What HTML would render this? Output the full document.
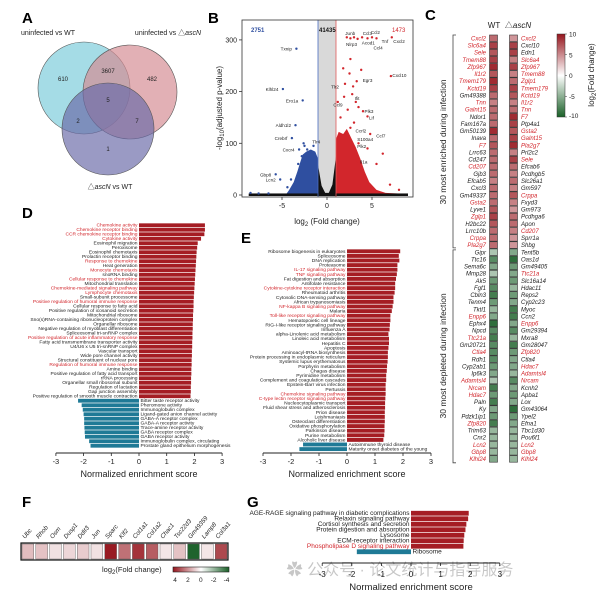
<!DOCTYPE html>
<html><head><meta charset="utf-8">
<style>
html,body{margin:0;padding:0;background:#fff}
svg{display:block;font-family:"Liberation Sans","Noto Sans CJK SC",sans-serif}
.pl{font-size:15px;font-weight:bold}
</style></head>
<body>
<svg id="fig" width="605" height="596" viewBox="0 0 605 596" xmlns="http://www.w3.org/2000/svg">
<rect width="605" height="596" fill="#fff"/>
<!-- Panel labels -->
<text x="22" y="23" class="pl">A</text>
<text x="208" y="23" class="pl">B</text>
<text x="425" y="20" class="pl">C</text>
<text x="22" y="218" class="pl">D</text>
<text x="241" y="243" class="pl">E</text>
<text x="22" y="507" class="pl">F</text>
<text x="247" y="507" class="pl">G</text>

<!-- Venn A -->
<g>
<circle cx="84" cy="88" r="46" fill="#8fd3e0" fill-opacity="0.8" stroke="#555" stroke-width="0.6"/>
<circle cx="130" cy="92" r="47" fill="#d48a92" fill-opacity="0.68" stroke="#555" stroke-width="0.6"/>
<circle cx="108" cy="129" r="46" fill="#6a6aa8" fill-opacity="0.68" stroke="#555" stroke-width="0.6"/>
<g font-size="7" fill="#222" text-anchor="middle">
<text x="48" y="35">uninfected vs WT</text>
<text x="168" y="35">uninfected vs △<tspan font-style="italic">ascN</tspan></text>
<text x="110" y="189">△<tspan font-style="italic">ascN</tspan> vs WT</text>
<text x="63" y="81" font-size="6">610</text>
<text x="108" y="73" font-size="6">3607</text>
<text x="152" y="81" font-size="6">482</text>
<text x="108" y="102" font-size="6">5</text>
<text x="78" y="123" font-size="6">2</text>
<text x="137" y="123" font-size="6">7</text>
<text x="108" y="151" font-size="6">1</text>
</g></g>

<!-- B frame -->
<g id="volcano"></g>
<g id="heat"></g>
<g id="gsea-d"></g>
<g id="gsea-e"></g>
<g id="fheat"></g>
<g id="gsea-g"></g>
<text x="400" y="575" font-size="16" fill="#000" fill-opacity="0.22" text-anchor="middle">✿ 公众号 · 论文统计与指导服务</text>
</svg>
<script>
const NS="http://www.w3.org/2000/svg";
function mk(tag,at,par){const e=document.createElementNS(NS,tag);for(const k in at)e.setAttribute(k,at[k]);par.appendChild(e);return e;}
function tx(str,at,par){const e=mk('text',at,par);e.textContent=str;return e;}

/* ===== B volcano data ===== */
const volXTicks=[-5,0,5];
const volYTicks=[0,100,200,300];
const blueEnvelope=[[-4.6,0],[-4.2,10],[-3.7,25],[-3.3,45],[-3.0,62],[-2.7,78],[-2.3,84],[-1.8,88],[-1.3,84],[-1,70],[-1,0]];
const redEnvelope=[[1,0],[1,108],[1.3,122],[1.8,118],[2.2,128],[2.7,110],[3.2,92],[3.7,70],[4.2,45],[4.7,25],[5.5,10],[6.5,4],[9,2],[9,0]];
const blackEnvelope=[[-1,0],[-1,58],[-0.6,18],[-0.2,4],[0.2,4],[0.6,20],[1,75],[1,0]];
const bluePts=[[-3.4,283],[-4.9,205],[-2.7,183],[-3.5,135],[-3.9,110],[-2.6,100],[-3.1,88],[-5.7,40],[-5.2,30],[-2.5,95],[-2.2,88],[-2.8,75],[-3.2,60],[-2.0,80],[-4.0,30],[-4.4,15],[-1.5,95],[-1.9,70],[-8.5,4],[-7.6,3],[-6.5,3]];
const redPts=[[7.2,305],[7.1,230],[2.2,305],[2.6,303],[3.0,305],[3.4,302],[3.9,305],[4.5,303],[5.0,305],[5.5,303],[2.6,263],[3.8,242],[1.8,245],[2.5,235],[3.3,220],[2.9,210],[2.0,215],[2.8,195],[3.2,180],[1.9,190],[4.0,162],[4.5,152],[3.5,170],[2.3,165],[1.5,150],[3.0,140],[2.6,130],[4.8,118],[6.2,80],[3.5,100],[4.5,90],[5.5,60],[7.0,20],[8.0,10],[3.0,50],[3.4,65],[1.2,180]];
const volLabels=[["Txnip",-3.4,283,-3],["Klhl24",-4.9,205,-3],["Ero1a",-2.7,183,-3],["Aldh1l2",-3.5,135,-3],["Crebrf",-3.9,110,-3],["Tlr4",-1.8,103,1],["Cxcr4",-3.1,88,-3],["Gbp8",-5.7,40,-3],["Lcn2",-5.2,30,-3],["Cxcl2",7.2,298,1],["Cxcl10",7.1,232,1],["Egr3",3.8,222,1],["Tlr2",1.5,210,-1],["Ifit",2.9,188,1],["Ccl9",1.9,175,-1],["Plk3",4.0,162,1],["Lif",4.5,150,1],["Ccrl2",3.0,125,1],["Ccl7",5.3,115,1],["S100a4",3.2,108,1],["Plk2",3.2,95,1],["Il1a",3.5,65,1],["Junb",3.3,313,-1],["Ccl3",3.8,313,1],["Ccl2",4.7,315,1],["Nlrp3",3.5,292,-1],["Acod1",3.7,295,1],["Tnf",5.9,298,1],["Ccl4",5.0,285,1]];

(function(){
const g=document.getElementById('volcano');
const X0=242,X1=413,Y0=20,Y1=197;
const xS=v=>327+v*9, yS=v=>195-v*0.517;
let el=mk('rect',{x:xS(-1),y:Y0,width:xS(1)-xS(-1),height:Y1-Y0,fill:'#d9d9d9'},g);


function poly(arr,fill,name){const p=mk('polygon',{points:arr.map(d=>xS(d[0])+','+yS(d[1])).join(' '),fill:fill},g);

}
poly(blueEnvelope,'#2f4fa0','downregulated-cloud');
poly(redEnvelope,'#d2262c','upregulated-cloud');
poly(blackEnvelope,'#111','nonsignificant-cloud');
el=mk('rect',{x:xS(-8.7),y:yS(3),width:xS(9)-xS(-8.7),height:yS(0)-yS(3)+1,fill:'#111'},g);


bluePts.forEach(d=>{const c=mk('circle',{cx:xS(d[0]),cy:yS(d[1]),r:1.2,fill:'#2f4fa0'},g);

});
redPts.forEach(d=>{const c=mk('circle',{cx:xS(d[0]),cy:yS(d[1]),r:1.2,fill:'#d2262c'},g);

});
el=mk('line',{x1:xS(-1),x2:xS(-1),y1:Y0,y2:Y1,stroke:'#4a6cc0','stroke-width':0.8},g);


el=mk('line',{x1:xS(1),x2:xS(1),y1:Y0,y2:Y1,stroke:'#e05a5a','stroke-width':0.8},g);


el=mk('rect',{x:X0,y:Y0,width:X1-X0,height:Y1-Y0,fill:'none',stroke:'#333','stroke-width':0.8},g);


volLabels.forEach(d=>{const t=tx(d[0],{x:xS(d[1])+d[3]*1.5,y:yS(d[2])+2,'font-size':4.6,fill:'#222','text-anchor':d[3]<0?'end':'start'},g);

});
volXTicks.forEach(v=>{const l=mk('line',{x1:xS(v),x2:xS(v),y1:Y1,y2:Y1+3,stroke:'#333','stroke-width':0.8},g);


const t=tx(String(v).replace('-','-'),{x:xS(v),y:Y1+11,'font-size':7,'text-anchor':'middle',fill:'#222'},g);

});
volYTicks.forEach(v=>{const l=mk('line',{x1:X0-3,x2:X0,y1:yS(v),y2:yS(v),stroke:'#333','stroke-width':0.8},g);


const t=tx(String(v),{x:X0-5,y:yS(v)+2.5,'font-size':7,'text-anchor':'end',fill:'#222'},g);

});
let t=tx('2751',{x:251,y:32,'font-size':6,'font-weight':'bold',fill:'#2f4fa0'},g);


t=tx('41435',{x:319,y:32,'font-size':6,'font-weight':'bold',fill:'#111'},g);


t=tx('1473',{x:392,y:32,'font-size':6,fill:'#d2262c'},g);


t=mk('text',{x:327,y:224,'font-size':8,'text-anchor':'middle',fill:'#222'},g);
t.innerHTML='log<tspan font-size="6" dy="2">2</tspan><tspan dy="-2"> (Fold change)</tspan>';


t=mk('text',{x:0,y:0,'font-size':8,'text-anchor':'middle',fill:'#222',transform:'translate(222,108) rotate(-90)'},g);
t.innerHTML='-log<tspan font-size="6" dy="2">10</tspan><tspan dy="-2">(adjusted p-value)</tspan>';


})();

/* ===== C heatmap data ===== */
const wtGenes=["Cxcl2","Slc6a4","Sele","Tmem88","Zfp967","Il1r2","Tmem179","Kctd19","Gm49388","Tnn","Galnt15","Ndor1","Fam167a","Gm50139","Inava","F7","Lrrc63","Cd247","Cd207","Gjb3","Efcab5","Cxcl3","Gm49337","Gsta2","Lyve1","Zglp1","H2bc22","Lrrc10b","Crppa","Pla2g7","Gipr","Ttc16","Sema6c","Mmp28","Ak5","Fgf1","Cbln3","Tenm4","Tktl1","Enpp6","Ephx4","Npcd","Ttc21a","Gm20721","Ctla4","Rdh1","Cyp2ab1","Ip6k3","Adamtsl4","Nrcam","Hdac7","Paln","Ky","Pdzk1ip1","Zfp820","Trim63","Cnr2","Lcn2","Gbp8","Klhl24"];
const wtRed=[1,1,1,1,1,1,1,1,0,1,1,0,0,0,0,1,0,0,1,0,0,0,0,1,0,1,0,0,1,1,0,0,0,0,0,0,0,0,0,1,0,0,1,0,1,0,0,0,1,1,1,0,0,0,1,0,0,1,1,1];
const wtVals=[7,9,8,9,10,8,10,9,7,6,7,7,7,10,7,8,7,7,7,7,6,7,7,7,8,9,8,7,7,7,-4,-8,-6,-4,-7,-8,-9,-7,-5,-6,-10,-8,-9,-8,-8,-8,-7,-6,-4,-9,-7,-9,-6,-7,-9,-5,-5,-5,-5,-6];
const dGenes=["Cxcl2","Cxcl10","Edn1","Slc6a4","Zfp967","Tmem88","Zglp1","Tmem179","Kctd19","Il1r2","Tnn","F7","Ptp4a1","Gsta2","Galnt15","Pla2g7","Prl2c2","Sele","Efcab6","Pcdhgb5","Slc26a1","Gm597","Crppa","Fxyd3","Gm973","Pcdhga6","Apon","Cd207","Sprr1a","Shbg","Tent5b","Oas1d","Gm49405","Ttc21a","Slc16a14","Hdac11","Reps2","Cyp2c23","Myoc","Ccn2","Enpp6","Gm29394","Mxra8","Gm28047","Zfp820","Ctla4","Hdac7","Adamtsl4","Nrcam","Kcnh2","Apba1","Lox","Gm43064","Ypel2","Efna1","Tbc1d30","Pou6f1","Lcn2","Gbp8","Klhl24"];
const dRed=[1,0,0,1,1,1,1,1,1,1,1,1,0,1,1,1,0,1,0,0,0,0,1,0,0,0,0,1,0,0,0,0,0,1,0,0,0,0,0,0,1,0,0,0,1,0,1,1,1,0,0,0,0,0,0,0,0,1,1,1];
const dVals=[5,9,9,6,9,6,7,9,8,6,7,10,9,8,9,10,6,9,7,6,7,6,8,6,5,7,7,6,5,5,-6,-10,-7,-6,-7,-5,-7,-6,-9,-9,-6,-8,-5,-9,-7,-6,-6,-5,-8,-6,-7,-6,-10,-7,-6,-5,-5,-5,-5,-5];
const cbTicks=[10,5,0,-5,-10];

function divColor(v,max,pos,neg){const f=Math.max(-1,Math.min(1,v/max));const c=f>=0?pos:neg;const a=Math.abs(f);
const r=Math.round(255+(c[0]-255)*a),gg=Math.round(255+(c[1]-255)*a),b=Math.round(255+(c[2]-255)*a);return `rgb(${r},${gg},${b})`;}
const RED=[150,22,30],GREEN=[26,96,40];

(function(){
const g=document.getElementById('heat');
const y0=35,h=7.13;
let t=tx('WT',{x:494,y:28,'font-size':8,'text-anchor':'middle',fill:'#222'},g);


t=mk('text',{x:518,y:28,'font-size':8,'text-anchor':'middle',fill:'#222'},g);
t.innerHTML='△<tspan font-style="italic">ascN</tspan>';


wtGenes.forEach((n,i)=>{const y=y0+i*h;
const r=mk('rect',{x:489.5,y:y,width:8,height:h-0.6,fill:divColor(wtVals[i],11,RED,GREEN),stroke:'#333','stroke-width':0.6},g);


const l=tx(n,{x:486,y:y+5.4,'font-size':6,'font-style':'italic','text-anchor':'end',fill:wtRed[i]?'#d2262c':'#222'},g);

});
dGenes.forEach((n,i)=>{const y=y0+i*h;
const r=mk('rect',{x:509.5,y:y,width:8,height:h-0.6,fill:divColor(dVals[i],11,RED,GREEN),stroke:'#333','stroke-width':0.6},g);


const l=tx(n,{x:521,y:y+5.4,'font-size':6,'font-style':'italic',fill:dRed[i]?'#d2262c':'#222'},g);

});
let b=mk('path',{d:`M456,${y0} H453 V${y0+30*h-1} H456`,fill:'none',stroke:'#444','stroke-width':0.8},g);


b=mk('path',{d:`M456,${y0+30*h+1} H453 V${y0+60*h} H456`,fill:'none',stroke:'#444','stroke-width':0.8},g);


t=tx('30 most enriched during infection',{x:0,y:0,'font-size':8.5,'text-anchor':'middle',fill:'#222',transform:`translate(446,${y0+15*h}) rotate(-90)`},g);


t=tx('30 most depleted  during infection',{x:0,y:0,'font-size':8.5,'text-anchor':'middle',fill:'#222',transform:`translate(446,${y0+45*h}) rotate(-90)`},g);


// colorbar
const defs=mk('defs',{},g);
const lg=mk('linearGradient',{id:'cbv',x1:0,y1:0,x2:0,y2:1},defs);
[['0%','rgb(150,22,30)'],['50%','#fff'],['100%','rgb(26,96,40)']].forEach(s=>mk('stop',{offset:s[0],'stop-color':s[1]},lg));
const cbY0=34,cbY1=117;
let cb=mk('rect',{x:557,y:cbY0,width:8,height:cbY1-cbY0,fill:'url(#cbv)',stroke:'#333','stroke-width':0.5},g);


cbTicks.forEach(v=>{const y=cbY0+(10-v)/20*(cbY1-cbY0);
const l=mk('line',{x1:565,x2:567,y1:y,y2:y,stroke:'#333','stroke-width':0.5},g);


const tt=tx(String(v),{x:569,y:Math.min(y+2.5,cbY1+1),'font-size':6.5,fill:'#222'},g);

});
t=mk('text',{x:0,y:0,'font-size':8,'text-anchor':'middle',fill:'#222',transform:'translate(594,75) rotate(-90)'},g);
t.innerHTML='log<tspan font-size="6" dy="2">2</tspan><tspan dy="-2">(Fold change)</tspan>';


})();

/* ===== D data ===== */
const dTerms=["Chemokine activity","Chemokine receptor binding","CCR chemokine receptor binding","Cytokine activity","Eosinophil migration","Peroxisome","Eosinophil chemotaxis","Prolactin receptor binding","Response to chemokine","Heat generation","Monocyte chemotaxis","snoRNA binding","Cellular response to chemokine","Mitochondrial translation","Chemokine-mediated signaling pathway","Lymphocyte chemotaxis","Small-subunit processome","Positive regulation of humoral immune response","Cellular response to fatty acid","Positive regulation of icosanoid secretion","Mitochondrial ribosome","Sno(s)RNA-containing ribonucleoprotein complex","Organellar ribosome","Negative regulation of myoblast differentiation","Spliceosomal tri-snRNP complex","Positive regulation of acute inflammatory response","Fatty acid transmembrane transporter activity","U4/U6 x U5 tri-snRNP complex","Vascular transport","Wide pore channel activity","Structural constituent of nuclear pore","Regulation of humoral immune response","Amine binding","Positive regulation of fatty acid transport","rRNA processing","Organellar small ribosomal subunit","Regulation of lactation","Gap junction assembly","Positive regulation of smooth muscle contraction","Bitter taste receptor activity","Pheromone activity","Immunoglobulin complex","Ligand-gated anion channel activity","GABA-A receptor complex","GABA-A receptor activity","Trace-amine receptor activity","GABA receptor complex","GABA receptor activity","Immunoglobulin complex, circulating","Prostate gland epithelium morphogenesis"];
const dNES=[2.38,2.38,2.36,2.24,2.12,2.1,2.08,2.07,2.06,2.05,2.04,2.03,2.02,2.01,2.0,1.99,1.98,1.97,1.97,1.96,1.95,1.95,1.94,1.94,1.93,1.93,1.92,1.92,1.91,1.91,1.9,1.9,1.89,1.89,1.88,1.88,1.87,1.87,1.86,-2.2,-2.07,-2.03,-2.0,-1.98,-1.98,-1.97,-1.96,-1.95,-1.8,-1.75];
const dHighlight=[1,1,1,1,0,0,0,0,1,0,1,0,1,0,1,1,0,1,0,0,0,0,0,0,0,1,0,0,0,0,0,1,0,0,0,0,0,0,0,0,0,0,0,0,0,0,0,0,0,0];
const eTerms=["Ribosome biogenesis in eukaryotes","Spliceosome","DNA replication","Proteasome","IL-17 signaling pathway","TNF signaling pathway","Fat digestion and absorption","Antifolate resistance","Cytokine-cytokine receptor interaction","Rheumatoid arthritis","Cytosolic DNA-sensing pathway","African trypanosomiasis","NF-kappa B signaling pathway","Malaria","Toll-like receptor signaling pathway","Hematopoietic cell lineage","RIG-I-like receptor signaling pathway","Influenza A","alpha-Linolenic acid metabolism","Linoleic acid metabolism","Hepatitis C","Apoptosis","Aminoacyl-tRNA biosynthesis","Protein processing in endoplasmic reticulum","Systemic lupus erythematosus","Porphyrin metabolism","Chagas disease","Pyrimidine metabolism","Complement and coagulation cascades","Epstein-Barr virus infection","Pertussis","Chemokine signaling pathway","C-type lectin receptor signaling pathway","Nucleocytoplasmic transport","Fluid shear stress and atherosclerosis","Prion disease","Leishmaniasis","Osteoclast differentiation","Oxidative phosphorylation","Parkinson disease","Purine metabolism","Alcoholic liver disease","Autoimmune thyroid disease","Maturity onset diabetes of the young"];
const eNES=[1.9,1.85,1.87,1.8,1.8,1.78,1.75,1.72,1.72,1.7,1.66,1.66,1.63,1.6,1.55,1.55,1.53,1.52,1.48,1.5,1.5,1.48,1.46,1.46,1.45,1.43,1.42,1.4,1.4,1.38,1.38,1.38,1.37,1.36,1.36,1.35,1.35,1.35,1.34,1.34,1.33,1.3,-1.57,-1.7];
const eHighlight=[0,0,0,0,1,1,0,0,1,0,0,0,1,0,1,0,0,0,0,0,0,0,0,0,0,0,0,0,0,0,0,1,1,0,0,0,0,0,0,0,0,0,0,0];
const gTerms=["AGE-RAGE signaling pathway in diabetic complications","Relaxin signaling pathway","Cortisol synthesis and secretion","Protein digestion and absorption","Lysosome","ECM-receptor interaction","Phospholipase D signaling pathway","Ribosome"];
const gNES=[1.95,1.93,1.87,1.84,1.8,1.78,1.77,-1.83];
const gHighlight=[0,0,0,0,0,0,1,0];
const nesTicks=[-3,-2,-1,0,1,2,3];

function gsea(g,terms,nes,hl,o){
const xS=v=>o.zero+v*o.unit;
terms.forEach((n,i)=>{const y=o.y0+i*o.h, v=nes[i];
const r=mk('rect',{x:Math.min(xS(0),xS(v)),y:y+0.35,width:Math.abs(xS(v)-xS(0)),height:o.h-0.7,fill:v>=0?'#a51d24':'#1f7a96'},g);


const l=tx(n,{x:v>=0?xS(0)-1.5:xS(0)+1.5,y:y+o.h*0.82,'font-size':o.fs,'text-anchor':v>=0?'end':'start',fill:hl[i]?'#d2262c':'#222'},g);

});
const ax=mk('line',{x1:xS(-3),x2:xS(3),y1:o.ay,y2:o.ay,stroke:'#222','stroke-width':1},g);


nesTicks.forEach(v=>{const l=mk('line',{x1:xS(v),x2:xS(v),y1:o.ay,y2:o.ay+3,stroke:'#222','stroke-width':0.8},g);


const t=tx(String(v),{x:xS(v),y:o.ay+o.tl,'font-size':o.tfs,'text-anchor':'middle',fill:'#222'},g);

});
const t=tx('Normalized enrichment score',{x:xS(0),y:o.ay+o.tt,'font-size':o.tfs+1.5,'text-anchor':'middle',fill:'#222'},g);


}
gsea(document.getElementById('gsea-d'),dTerms,dNES,dHighlight,{zero:139,unit:27.7,y0:223,h:4.5,fs:4.9,ay:453,tl:11,tt:24,tfs:7.5});
gsea(document.getElementById('gsea-e'),eTerms,eNES,eHighlight,{zero:347,unit:28,y0:249,h:4.6,fs:4.9,ay:453,tl:11,tt:24,tfs:7.5});
gsea(document.getElementById('gsea-g'),gTerms,gNES,gHighlight,{zero:411,unit:29.6,y0:510.5,h:5.5,fs:6.5,ay:563,tl:14,tt:27,tfs:8});

/* ===== F strip ===== */
const fGenes=["Ubc","Rhob","Osm","Dusp1","Ddit3","Jun","Sparc","Klf2","Col1a1","Col1a2","Chac1","Tsc22d3","Gm49359","Lamp8","Col3a1"];
const fVals=[1.3,1.2,0.6,0.8,1.0,0.6,4.5,2.8,4.0,3.2,0.5,1.2,-4.5,0.5,3.6];
const fTicks=[4,2,0,-2,-4];
(function(){
const g=document.getElementById('fheat');
const x0=21,w=13.8,y0=543,h=17;
fGenes.forEach((n,i)=>{const x=x0+i*w;
const r=mk('rect',{x:x+1,y:y0+1,width:w-2,height:h-2,fill:divColor(fVals[i],4.6,RED,GREEN),stroke:'#555','stroke-width':0.4},g);


const t=tx(n,{x:0,y:0,'font-size':6.2,'font-style':'italic',fill:'#222',transform:`translate(${x+4},${y0-4}) rotate(-50)`},g);

});
let f=mk('rect',{x:x0,y:y0,width:15*w,height:h,fill:'none',stroke:'#111','stroke-width':1.2},g);


const defs=mk('defs',{},g);
const lg=mk('linearGradient',{id:'cbh',x1:0,y1:0,x2:1,y2:0},defs);
[['0%','rgb(150,22,30)'],['50%','#fff'],['100%','rgb(26,96,40)']].forEach(s=>mk('stop',{offset:s[0],'stop-color':s[1]},lg));
const cx0=173,cx1=229;
let cb=mk('rect',{x:cx0,y:567,width:cx1-cx0,height:5,fill:'url(#cbh)',stroke:'#222','stroke-width':0.6},g);


fTicks.forEach(v=>{const x=cx0+(4-v)/8*(cx1-cx0)*0.92+2;
const t=tx(String(v),{x:x,y:582,'font-size':6.5,'text-anchor':'middle',fill:'#222'},g);

});
let t=mk('text',{x:102,y:572,'font-size':7.5,fill:'#222'},g);
t.innerHTML='log<tspan font-size="6" dy="2">2</tspan><tspan dy="-2">(Fold change)</tspan>';


})();
</script>
</body></html>
